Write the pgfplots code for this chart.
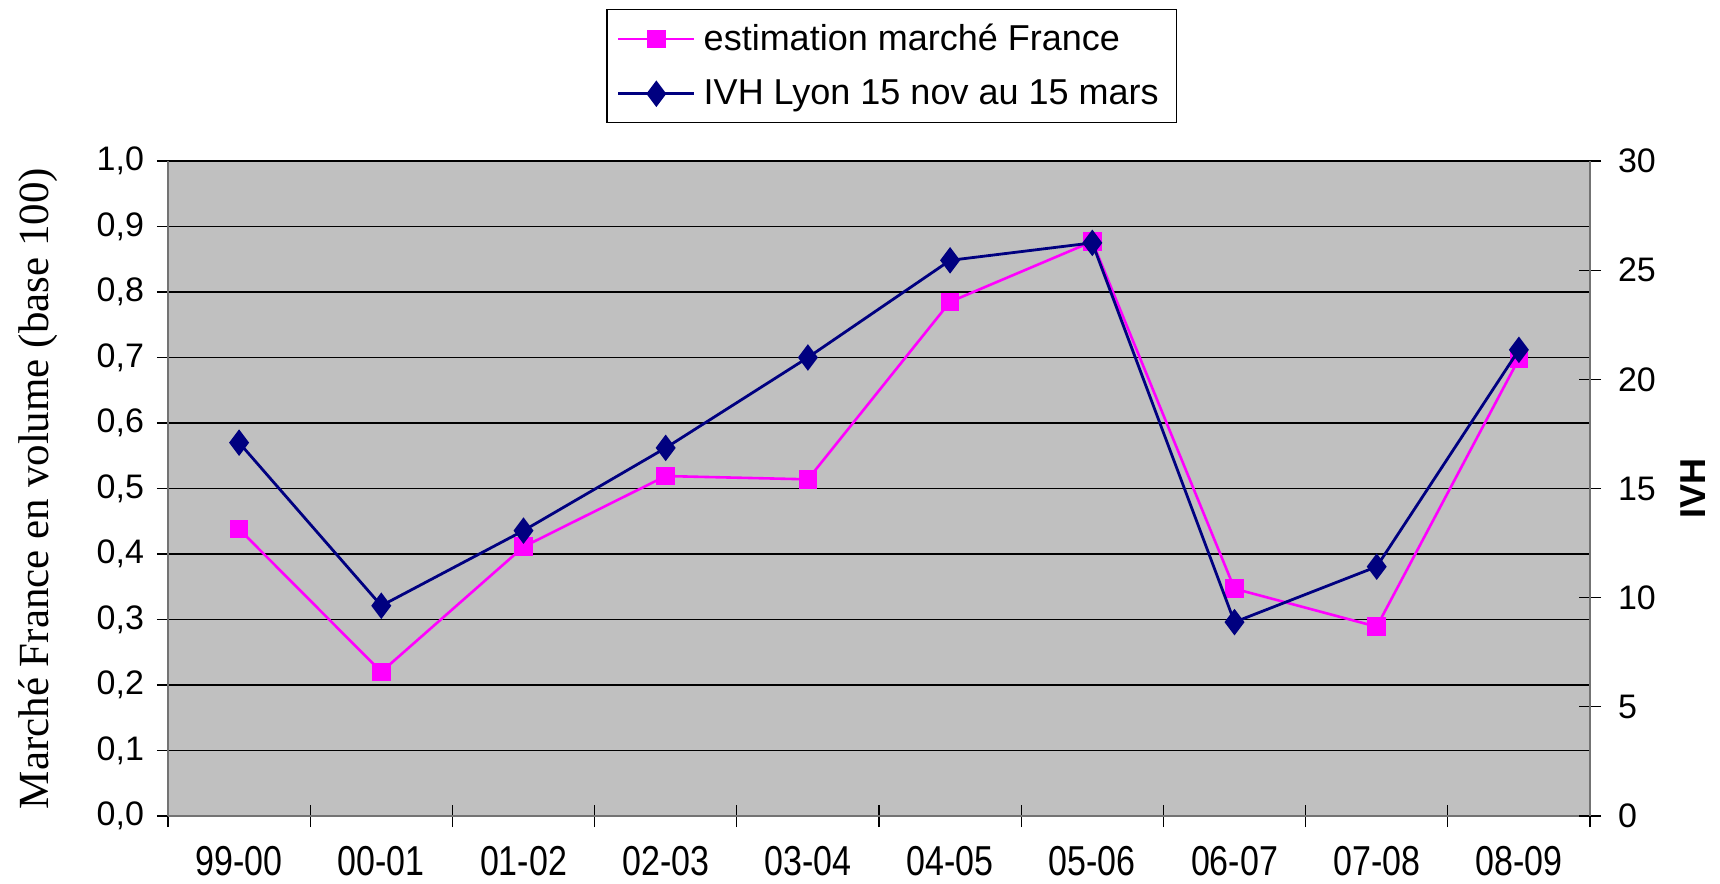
\documentclass[border=0pt]{standalone}
\usepackage{graphicx}
\usepackage{pgfplots}
\usepackage{pgfplotstable}
\pgfplotsset{compat=1.18}
\usepackage{fontspec}
\setmainfont{Liberation Sans}
\newfontfamily\timesfont{Liberation Serif}

\definecolor{plotbg}{HTML}{C0C0C0}
\definecolor{xlpink}{HTML}{FF00FF}
\definecolor{xlnavy}{HTML}{000080}

% marche France (left axis)
\pgfplotstableread{
x y
0 0.438
1 0.220
2 0.411
3 0.519
4 0.514
5 0.785
6 0.877
7 0.347
8 0.289
9 0.698
}\marchetable

% IVH Lyon (right axis)
\pgfplotstableread{
x y
0 17.10
1 9.63
2 13.07
3 16.86
4 21.00
5 25.45
6 26.25
7 8.88
8 11.42
9 21.35
}\ivhtable

\pgfplotsset{
  common/.style={
    scale only axis, width=711pt, height=327.5pt,
    xmin=-0.5, xmax=9.5,
    ticklabel style={font=\fontsize{17}{20}\selectfont},
    /pgf/number format/assume math mode=true,
    axis line style={draw=black!55, line width=1.2pt},
    tick style={black, line width=0.6pt},
  },
  pinkline/.style={xlpink, line width=1.3pt, mark=square*, mark size=4pt,
    mark options={solid, fill=xlpink, draw=xlpink}},
  navyline/.style={xlnavy, line width=1.4pt, mark=diamond*, mark size=5.5pt,
    mark options={solid, fill=xlnavy, draw=xlnavy}},
}

\begin{document}
\begin{tikzpicture}
\begin{axis}[common,
  ymin=0, ymax=1,
  axis background/.style={fill=plotbg},
  axis x line*=bottom, axis y line*=left,
  xtick={0,...,9},
  xticklabels={\scalebox{1}[1.23]{99-00},\scalebox{1}[1.23]{00-01},\scalebox{1}[1.23]{01-02},\scalebox{1}[1.23]{02-03},\scalebox{1}[1.23]{03-04},\scalebox{1}[1.23]{04-05},\scalebox{1}[1.23]{05-06},\scalebox{1}[1.23]{06-07},\scalebox{1}[1.23]{07-08},\scalebox{1}[1.23]{08-09}},
  major x tick style={draw=none},
  minor xtick={-0.5,0.5,...,9.5},
  minor tick length=11pt,
  xtick align=center,
  xticklabel style={yshift=-9pt},
  ytick={0,0.1,...,1.01},
  ytick align=outside, major tick length=5.5pt,
  yticklabel style={xshift=-3pt, /pgf/number format/.cd, fixed, fixed zerofill, precision=1, use comma},
  ymajorgrids, grid style={black, line width=0.7pt},
  every axis y label/.style={at={(axis description cs:-0.0914,0.5)}, rotate=90, anchor=center},
  ylabel={\timesfont\fontsize{21.5}{24}\selectfont Marché France en volume (base 100)},
  legend style={at={(axis description cs:0.509,1.145)}, anchor=center,
    draw=black, line width=0.6pt, fill=white,
    font=\fontsize{18}{22}\selectfont, inner xsep=5pt, inner ysep=5.5pt,
    row sep=9pt, nodes={inner xsep=4pt}},
  legend cell align=left,
  legend image code/.code={\draw[mark repeat=2, mark phase=2, #1]
    plot coordinates {(0pt,0pt) (19pt,0pt) (38pt,0pt)};},
]
\addplot[pinkline] table[x=x, y=y] {\marchetable};
\addlegendentry{estimation marché France}
\addlegendimage{navyline}
\addlegendentry{IVH Lyon 15 nov au 15 mars}
\end{axis}

\begin{axis}[common,
  ymin=0, ymax=30,
  axis x line=none, axis y line*=right,
  ytick={0,5,...,30},
  ytick align=center, major tick length=11pt,
  yticklabel style={xshift=5pt},
  every axis y label/.style={at={(axis description cs:1.0724,0.5)}, rotate=90, anchor=center},
  ylabel={\bfseries\fontsize{18}{22}\selectfont IVH},
]
\addplot[navyline] table[x=x, y=y] {\ivhtable};
\end{axis}

\pgfresetboundingbox
\path[use as bounding box] (-84pt,-34pt) rectangle (776pt,408pt);
\end{tikzpicture}
\end{document}
